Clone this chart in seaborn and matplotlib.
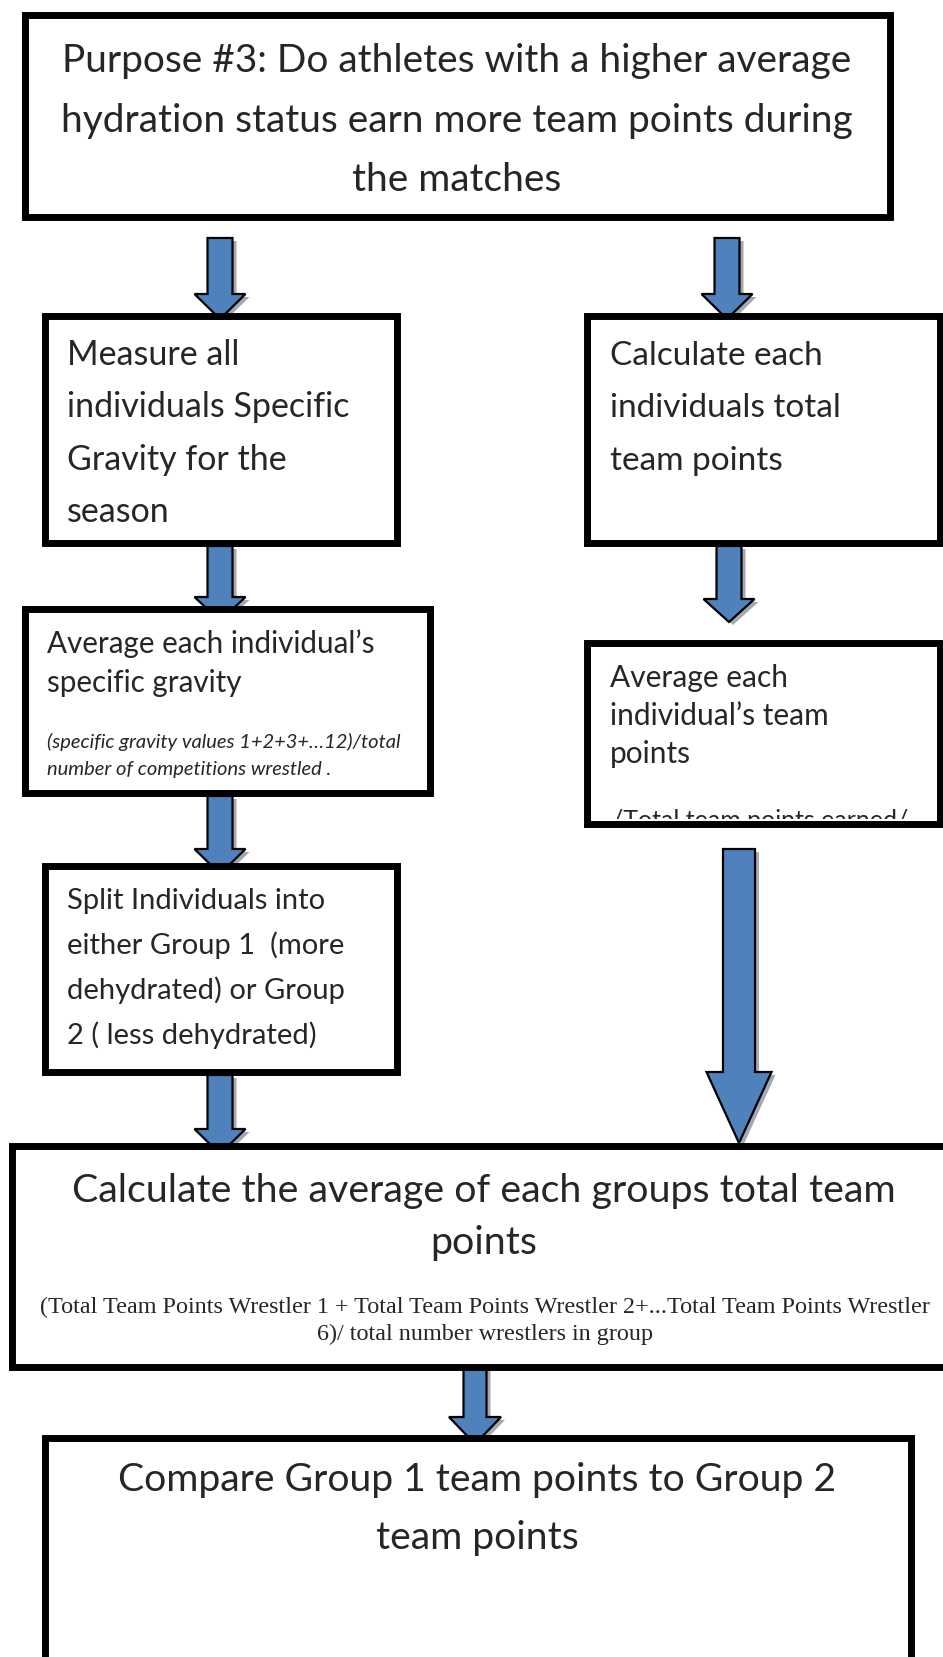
import matplotlib.pyplot as plt
import seaborn as sns
from matplotlib.patches import Rectangle, Polygon
from matplotlib.transforms import Bbox, TransformedBbox

# -----------------------------
# TEXT CONTENT
# -----------------------------
title_lines = ["Purpose #3: Do athletes with a higher average",
               "hydration status earn more team points during",
               "the matches"]
measure_lines = ["Measure all", "individuals Specific", "Gravity for the", "season"]
calc_lines = ["Calculate each", "individuals total", "team points"]
avg_sg_lines = ["Average each individual\u2019s", "specific gravity"]
avg_sg_note = ["(specific gravity values 1+2+3+\u202612)/total",
               "number of competitions wrestled ."]
avg_tp_lines = ["Average each", "individual\u2019s team", "points"]
avg_tp_note = "/Total team points earned/"
split_lines = ["Split Individuals into", "either Group 1  (more",
               "dehydrated) or Group", "2 ( less dehydrated)"]
group_lines = ["Calculate the average of each groups total team", "points"]
group_note = ["(Total Team Points Wrestler 1 + Total Team Points Wrestler 2+...Total Team Points Wrestler",
              "6)/ total number wrestlers in group"]
compare_lines = ["Compare Group 1 team points to Group 2", "team points"]

# -----------------------------
# LAYOUT (pixels, y down)
# -----------------------------
W, H = 943, 1658
BLUE = "#4F81BD"
SANS = ["Lato", "DejaVu Sans"]

# boxes: x0, y0, x1, y1 (border centre line)
box_top = (24.5, 15.5, 889.5, 217.5)
box_l2 = (45, 316.5, 396.5, 543.5)
box_r2 = (586.5, 316.5, 939.5, 543.5)
box_l3 = (25, 610, 430, 794)
box_r3 = (586.5, 643.5, 939.5, 824.5)
box_l4 = (45, 866.5, 396.5, 1072.5)
box_big = (12, 1146.5, 960, 1367.5)
box_cmp = (44.5, 1438.5, 910.5, 1700)

# arrows: centre x, top, head start, tip, shaft width, head width
arrows = [
    (220, 239, 295, 320, 25, 51),
    (727, 239, 295, 320, 25, 51),
    (220, 547, 598, 622, 25, 51),
    (729, 547, 600, 623, 25, 51),
    (220, 797, 850, 875, 25, 51),
    (220, 1076, 1130, 1155, 25, 51),
    (739, 850, 1073, 1144, 32, 65),
    (475, 1362, 1418, 1445, 23, 52),
]

sns.set_theme(style="white")
plt.rcParams['font.family'] = SANS

fig = plt.figure(figsize=(W / 100, H / 100), dpi=100)
ax = fig.add_axes([0, 0, 1, 1])
ax.set_xlim(0, W)
ax.set_ylim(H, 0)
ax.axis("off")


def draw_arrow(cx, top, hs, tip, sw, hw):
    pts = [(cx - sw / 2, top), (cx + sw / 2, top), (cx + sw / 2, hs),
           (cx + hw / 2, hs), (cx, tip), (cx - hw / 2, hs), (cx - sw / 2, hs)]
    shadow = [(x + 4, y + 3) for x, y in pts]
    ax.add_patch(Polygon(shadow, closed=True, facecolor="#a3a9b3",
                         edgecolor="none", zorder=1))
    ax.add_patch(Polygon(pts, closed=True, facecolor=BLUE,
                         edgecolor="black", lw=1.6, zorder=2, joinstyle="miter"))


def draw_box(b):
    x0, y0, x1, y1 = b
    ax.add_patch(Rectangle((x0, y0), x1 - x0, y1 - y0, facecolor="white",
                           edgecolor="black", lw=5, zorder=3, joinstyle="miter"))


def lines(xs, ys, texts, size, ha="left", **kw):
    out = []
    for y, t in zip(ys, texts):
        out.append(ax.text(xs, y, t, fontsize=size, ha=ha, va="baseline",
                           zorder=4, **kw))
    return out


for a in arrows:
    draw_arrow(*a)
for b in [box_top, box_l2, box_r2, box_l3, box_r3, box_l4, box_big, box_cmp]:
    draw_box(b)

lines(457, [72, 132, 191], title_lines, 28, ha="center")
lines(67, [365, 417, 470, 522], measure_lines, 24.5)
lines(610, [365, 417, 470], calc_lines, 24)
lines(47, [653, 692], avg_sg_lines, 21.3)
lines(47, [748, 775], avg_sg_note, 14.5, style="italic")
lines(610, [687, 725, 763], avg_tp_lines, 21.5)
clip = TransformedBbox(Bbox([[590, 647], [936, 820]]), ax.transData)
t = ax.text(612, 828, avg_tp_note, fontsize=18, ha="left", va="baseline", zorder=4)
t.set_clip_box(clip)
t.set_clip_on(True)
lines(67, [909, 954, 999, 1044], split_lines, 21)
lines(484, [1202, 1254], group_lines, 28.4, ha="center")
lines(485, [1313, 1340], group_note, 17.4, ha="center", family="Liberation Serif")
lines(477, [1491, 1549], compare_lines, 28.2, ha="center")

sns.despine(left=True, bottom=True)
fig.savefig("out.png", dpi=100)
